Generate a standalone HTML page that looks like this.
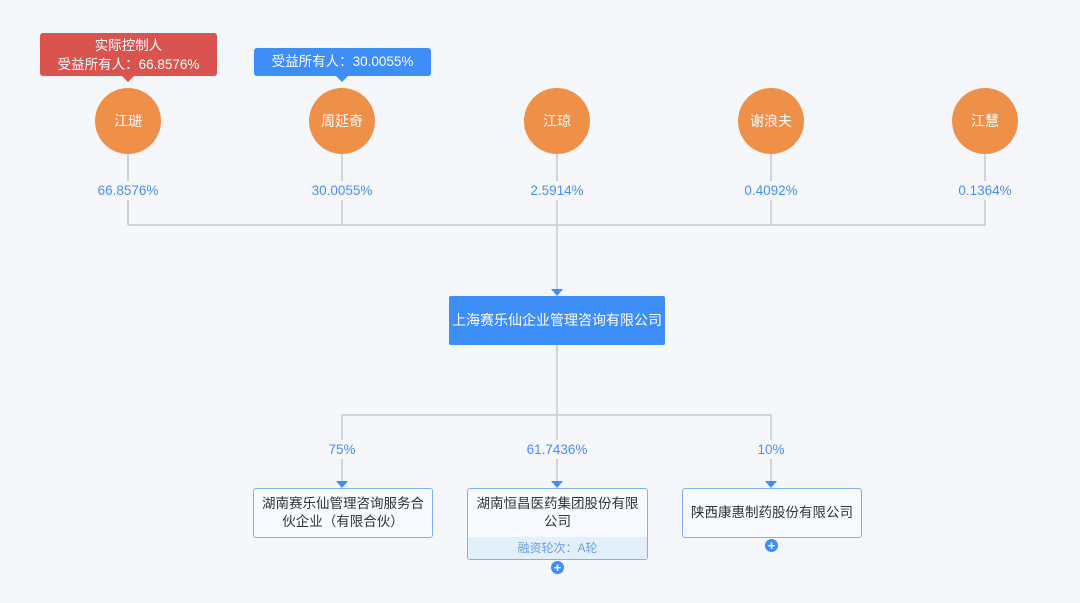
<!DOCTYPE html>
<html><head><meta charset="utf-8"><style>
body{margin:0;width:1080px;height:603px;background:#f5f7fb;position:relative;overflow:hidden;font-family:"Liberation Sans","Noto Sans CJK SC",sans-serif}
.a{position:absolute}
.c{position:absolute;width:66px;height:66px;border-radius:50%;background:#ef9049;color:#fff;font-size:14px;display:flex;align-items:center;justify-content:center;top:88px}
.p{position:absolute;color:#4a8ef5;font-size:13.5px;transform:translateX(-50%);white-space:nowrap;background:#f5f7fb;padding:2px 3px}
.b{position:absolute;border:1.5px solid #7fb0f5;border-radius:3px;background:#f7faff;font-size:13.5px;color:#333;text-align:center;box-sizing:border-box;line-height:18px}
.plus{position:absolute;width:13px;height:13px;border-radius:50%;background:#3e8ef7;color:#fff;font-size:13px;line-height:13px;text-align:center;font-weight:bold}
</style></head><body>
<svg class="a" width="1080" height="603" style="left:0;top:0">
<g stroke="#c4c7cc" stroke-width="1.5" fill="none">
<path d="M128 154V225M342 154V225M557 154V292M771 154V225M985 154V225M128 225H985"/>
<path d="M557 345V485M342 415V485M771 415V485M342 415H771"/>
</g>
<g fill="#3e8ef7">
<polygon points="551,289 563,289 557,296"/>
<polygon points="336,481 348,481 342,488"/>
<polygon points="551,481 563,481 557,488"/>
<polygon points="765,481 777,481 771,488"/>
</g>
</svg>
<div class="a" style="left:40px;top:33px;width:177px;height:43px;background:#d9534f;border-radius:3px;color:#fff;font-size:13.5px;text-align:center;line-height:19px;padding-top:3px;box-sizing:border-box">实际控制人<br>受益所有人：66.8576%</div>
<div class="a" style="left:122px;top:76px;border:6px solid transparent;border-top-color:#d9534f;border-bottom:0"></div>
<div class="a" style="left:254px;top:48px;width:177px;height:28px;background:#3e8ef7;border-radius:3px;color:#fff;font-size:13.5px;text-align:center;line-height:28px">受益所有人：30.0055%</div>
<div class="a" style="left:336px;top:76px;border:6px solid transparent;border-top-color:#3e8ef7;border-bottom:0"></div>
<div class="c" style="left:95px">江琎</div>
<div class="c" style="left:309px">周延奇</div>
<div class="c" style="left:524px">江琼</div>
<div class="c" style="left:738px">谢浪夫</div>
<div class="c" style="left:952px">江慧</div>
<div class="p" style="left:128px;top:181px">66.8576%</div>
<div class="p" style="left:342px;top:181px">30.0055%</div>
<div class="p" style="left:557px;top:181px">2.5914%</div>
<div class="p" style="left:771px;top:181px">0.4092%</div>
<div class="p" style="left:985px;top:181px">0.1364%</div>
<div class="a" style="left:449px;top:296px;width:216px;height:49px;background:#3e8ef7;border-radius:2px;color:#fff;font-size:14px;text-align:center;line-height:49px">上海赛乐仙企业管理咨询有限公司</div>
<div class="p" style="left:342px;top:440px">75%</div>
<div class="p" style="left:557px;top:440px">61.7436%</div>
<div class="p" style="left:771px;top:440px">10%</div>
<div class="b" style="left:253px;top:488px;width:180px;height:50px;padding-top:6px">湖南赛乐仙管理咨询服务合<br>伙企业（有限合伙）</div>
<div class="b" style="left:467px;top:488px;width:181px;height:72px;overflow:hidden"><div style="padding-top:6px;height:42px">湖南恒昌医药集团股份有限<br>公司</div><div style="background:#e4effc;height:24px;line-height:22px;font-size:12px;color:#6a9ee8">融资轮次：A轮</div></div>
<div class="b" style="left:682px;top:488px;width:180px;height:50px;line-height:47px">陕西康惠制药股份有限公司</div>
<div class="plus" style="left:551px;top:561px">+</div>
<div class="plus" style="left:765px;top:539px">+</div>
</body></html>
